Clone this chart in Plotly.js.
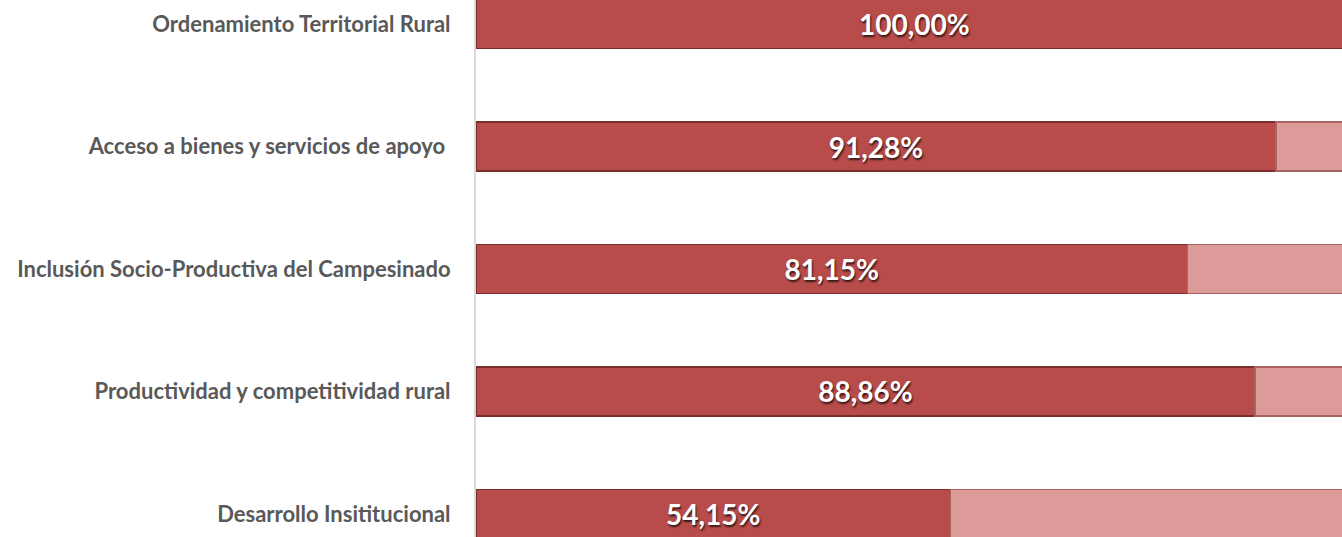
<!DOCTYPE html>
<html>
<head>
<meta charset="utf-8">
<script src="https://cdn.plot.ly/plotly-3.0.1.min.js"></script>
<style>
  html, body { margin: 0; padding: 0; background: #ffffff; }
  #chart { width: 1342px; height: 537px; }
</style>
</head>
<body>
<div id="chart"></div>
<script>
var categories = [
    'Desarrollo Insititucional',
    'Productividad y competitividad rural',
    'Inclusión Socio-Productiva del Campesinado',
    'Acceso a bienes y servicios de apoyo\u00a0',
    'Ordenamiento Territorial Rural'
];
var achieved = [54.15, 88.86, 81.15, 91.28, 100.00];
var pending = [45.85, 11.14, 18.85, 8.72, 0];

var traces = [];
traces.push({
    y: categories,
    x: achieved,
    type: 'bar',
    orientation: 'h',
    name: 'Avance',
    width: 0.4,
    marker: {
        color: '#B84C4A',
        line: {color: '#7A2E2C', width: 1.5}
    },
    texttemplate: '%{x:.2f}%',
    textposition: 'inside',
    insidetextanchor: 'middle',
    textangle: 0,
    textfont: {
        family: 'Lato, sans-serif',
        size: 28,
        color: '#ffffff',
        weight: 'bold',
        shadow: '1px 2px 2px rgba(0,0,0,0.7)'
    },
    hoverinfo: 'skip'
});
traces.push({
    y: categories,
    x: pending,
    type: 'bar',
    orientation: 'h',
    name: 'Pendiente',
    width: 0.4,
    marker: {
        color: '#DC9A98',
        line: {color: '#A86462', width: 1.5}
    },
    hoverinfo: 'skip'
});

var layout = {
    barmode: 'stack',
    showlegend: false,
    separators: ',.',
    margin: {l: 476, r: 0, t: 0, b: 0, pad: 0},
    paper_bgcolor: '#ffffff',
    plot_bgcolor: '#ffffff',
    xaxis: {
        range: [0, 98.8],
        showgrid: false,
        zeroline: false,
        showticklabels: false,
        showline: false,
        fixedrange: true
    },
    yaxis: {
        type: 'category',
        range: [-0.188, 4.196],
        showgrid: false,
        zeroline: false,
        showline: true,
        linecolor: '#D9D9D9',
        linewidth: 2,
        ticks: '',
        ticklabelstandoff: 19,
        tickfont: {
            family: 'Lato, sans-serif',
            size: 22,
            color: '#595959',
            weight: 'bold'
        },
        fixedrange: true
    }
};

Plotly.newPlot('chart', traces, layout, {
    displayModeBar: false,
    staticPlot: true
});
</script>
</body>
</html>
